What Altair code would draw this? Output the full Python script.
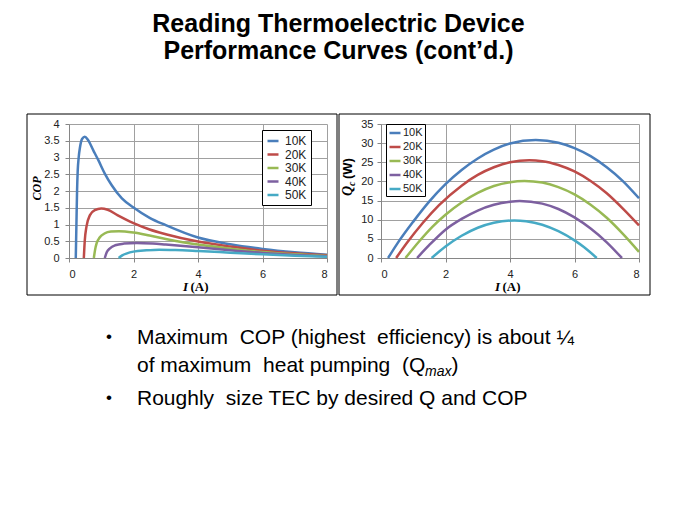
import altair as alt
import pandas as pd

series = ["10K", "20K", "30K", "40K", "50K"]
colors = ["#4A7EBB", "#BE4B48", "#98B954", "#7D60A0", "#46AAC5"]

NB = "\u00a0"
title_lines = ["Reading Thermoelectric Device", "Performance Curves (cont’d.)"]
bullet_lines = ["Maximum" + NB + " COP (highest" + NB + " efficiency) is about ¼",
                "of maximum" + NB + " heat pumping" + NB + " (Q",
                "Roughly" + NB + " size TEC by desired Q and COP"]
bullet_sub = ["max", ")"]
x_title_parts = ["I", "(A)"]
q_title_parts = ["Q", "c", "(W)"]

x_ticks = [0, 2, 4, 6, 8]
cop_ticks = [0, 0.5, 1, 1.5, 2, 2.5, 3, 3.5, 4]
q_ticks = [0, 5, 10, 15, 20, 25, 30, 35]

# COP vs current (left panel)
cop_i_10k = [0.21, 0.23, 0.25, 0.27, 0.30, 0.34, 0.41, 0.49, 0.59, 0.75, 0.91, 1.11, 1.32, 1.64, 2.0, 2.5, 3.0, 4.0, 5.0, 6.0, 7.0, 8.0]
cop_10k = [0, 1.0, 2.0, 2.6, 3.0, 3.3, 3.56, 3.62, 3.52, 3.22, 2.92, 2.52, 2.18, 1.78, 1.51, 1.2, 0.98, 0.61, 0.41, 0.27, 0.17, 0.1]
cop_i_20k = [0.46, 0.49, 0.54, 0.65, 0.8, 1.0, 1.2, 1.5, 2.0, 2.5, 3.0, 4.0, 5.0, 6.0, 7.0, 8.0]
cop_20k = [0, 0.53, 0.93, 1.28, 1.43, 1.48, 1.44, 1.28, 1.04, 0.85, 0.71, 0.49, 0.34, 0.22, 0.14, 0.08]
cop_i_30k = [0.77, 0.81, 0.86, 0.95, 1.1, 1.3, 1.55, 2.0, 2.5, 3.0, 4.0, 5.0, 6.0, 7.0, 8.0]
cop_30k = [0, 0.25, 0.45, 0.61, 0.73, 0.79, 0.8, 0.76, 0.67, 0.57, 0.4, 0.28, 0.18, 0.11, 0.06]
cop_i_40k = [1.11, 1.17, 1.27, 1.43, 1.7, 2.1, 2.6, 3.0, 4.0, 5.0, 6.0, 7.0, 8.0]
cop_40k = [0, 0.17, 0.29, 0.38, 0.43, 0.45, 0.43, 0.4, 0.32, 0.23, 0.15, 0.09, 0.05]
cop_i_50k = [1.54, 1.65, 1.8, 2.0, 2.4, 2.8, 3.3, 4.0, 5.0, 6.0, 7.0, 8.0]
cop_50k = [0, 0.08, 0.14, 0.19, 0.23, 0.25, 0.24, 0.21, 0.16, 0.11, 0.07, 0.04]

# heat pumped Qc vs current (right panel)
q_i_10k = [0.22, 0.5, 1, 1.5, 2, 2.5, 3, 3.5, 4, 4.8, 5.5, 6, 6.5, 7, 7.5, 8]
q_10k = [0, 3.7, 9.5, 14.8, 19.3, 23.0, 26.0, 28.3, 29.9, 30.8, 30.1, 28.7, 26.6, 23.7, 20.1, 15.6]
q_i_20k = [0.47, 0.8, 1.3, 1.8, 2.5, 3, 3.5, 4, 4.6, 5, 5.5, 6, 6.5, 7, 7.5, 8]
q_20k = [0, 3.9, 9.2, 13.8, 18.9, 21.7, 23.7, 25.0, 25.5, 25.3, 24.3, 22.6, 20.1, 16.9, 12.9, 8.5]
q_i_30k = [0.76, 1.2, 1.6, 2, 2.5, 3, 3.5, 4, 4.45, 5, 5.5, 6, 6.5, 7, 7.5, 8]
q_30k = [0, 4.5, 8.2, 11.3, 14.5, 17.0, 18.8, 19.8, 20.1, 19.7, 18.5, 16.6, 13.9, 10.5, 6.3, 1.6]
q_i_40k = [1.12, 1.5, 2, 2.5, 3, 3.5, 4, 4.3, 5, 5.5, 6, 6.5, 7, 7.47]
q_40k = [0, 3.4, 7.4, 10.2, 12.4, 13.9, 14.7, 14.9, 14.2, 12.8, 10.6, 7.7, 4.1, 0]
q_i_50k = [1.57, 2, 2.5, 3, 3.5, 4.13, 4.5, 5, 5.5, 6, 6.3, 6.69]
q_50k = [0, 3.0, 5.8, 7.9, 9.2, 9.8, 9.6, 8.7, 7.0, 4.6, 2.8, 0]


def table(cols):
    rows = []
    for name, xs, ys in cols:
        for x, y in zip(xs, ys):
            rows.append({"series": name, "I": x, "v": y})
    return pd.DataFrame(rows)


cop_data = table(zip(series, [cop_i_10k, cop_i_20k, cop_i_30k, cop_i_40k, cop_i_50k],
                     [cop_10k, cop_20k, cop_30k, cop_40k, cop_50k]))
q_data = table(zip(series, [q_i_10k, q_i_20k, q_i_30k, q_i_40k, q_i_50k],
                   [q_10k, q_20k, q_30k, q_40k, q_50k]))
one = pd.DataFrame({"k": [0]})

W, H = 258, 134
GRAY = "#868686"


def axis(values, fmt, pad, **kw):
    return alt.Axis(values=values, format=fmt, grid=True, gridColor="#a0a0a0", gridWidth=1,
                    domainColor=GRAY, tickColor=GRAY, tickSize=4,
                    labelFont="Liberation Sans", labelFontSize=11, labelColor="#222",
                    labelPadding=pad, **kw)


def legend(x, y, pad, font, lab_off, row_pad):
    return alt.Legend(title=None, orient="none", legendX=x, legendY=y,
                      strokeColor="black", fillColor="white", padding=pad,
                      symbolType="stroke", symbolStrokeWidth=2.5, symbolSize=121,
                      labelOffset=lab_off, rowPadding=row_pad,
                      labelFont="Liberation Sans", labelFontSize=font, labelColor="#222")


def frame(right):
    return alt.Chart(one).mark_rect(fillOpacity=0, stroke="black", strokeWidth=1).encode(
        x=alt.value(-42), x2=alt.value(W + right), y=alt.value(-10), y2=alt.value(H + 37))


def x_title():
    serif = dict(font="Liberation Serif", fontWeight="bold", fontSize=13, align="left",
                 baseline="alphabetic", color="black")
    a = alt.Chart(one).mark_text(text=x_title_parts[0], fontStyle="italic", **serif).encode(
        x=alt.value(114), y=alt.value(H + 33))
    b = alt.Chart(one).mark_text(text=x_title_parts[1], **serif).encode(
        x=alt.value(121.5), y=alt.value(H + 33))
    return a + b


color_scale = alt.Scale(domain=series, range=colors)

left_lines = alt.Chart(cop_data).mark_line(interpolate="monotone", strokeWidth=2.5).encode(
    x=alt.X("I:Q", scale=alt.Scale(domain=[0, 8], nice=False), axis=axis(x_ticks, "d", 6, title=None)),
    y=alt.Y("v:Q", scale=alt.Scale(domain=[0, 4], nice=False),
            axis=axis(cop_ticks, ".1~f", 6, title="COP", titleFont="Liberation Serif",
                      titleFontStyle="italic", titleFontWeight="bold", titleFontSize=12,
                      titleColor="black", titleX=-33, titleY=64, titleAlign="center",
                      titleBaseline="middle")),
    color=alt.Color("series:N", scale=color_scale, legend=legend(193, 6, 4, 12, 5, 0.5)),
)

q_title = (
    alt.Chart(one).mark_text(text=q_title_parts[0], angle=270, align="left", baseline="middle",
                             font="Liberation Serif", fontStyle="italic", fontWeight="bold",
                             fontSize=14, color="black").encode(x=alt.value(-33), y=alt.value(72))
    + alt.Chart(one).mark_text(text=q_title_parts[1], angle=270, align="left", baseline="middle",
                               font="Liberation Serif", fontStyle="italic", fontWeight="bold",
                               fontSize=10, color="black").encode(x=alt.value(-29), y=alt.value(62))
    + alt.Chart(one).mark_text(text=q_title_parts[2], angle=270, align="left", baseline="middle",
                               font="Liberation Sans", fontWeight="bold",
                               fontSize=13, color="black").encode(x=alt.value(-33), y=alt.value(55))
)

right_lines = alt.Chart(q_data).mark_line(interpolate="monotone", strokeWidth=2.5).encode(
    x=alt.X("I:Q", scale=alt.Scale(domain=[0, 8], nice=False), axis=axis(x_ticks, "d", 6, title=None)),
    y=alt.Y("v:Q", scale=alt.Scale(domain=[0, 35], nice=False), axis=axis(q_ticks, "d", 4, title=None)),
    color=alt.Color("series:N", scale=color_scale, legend=legend(5, 0, 2, 11, 1, 2)),
)

left = alt.layer(frame(10), left_lines, x_title()).properties(width=W, height=H)
right = alt.layer(frame(11), right_lines, x_title(), q_title).properties(width=W, height=H)
plots = alt.hconcat(left, right, spacing=0).resolve_scale(color="independent")

# bullet block: its origin lines up with the left plot's origin
big = dict(font="Liberation Sans", fontSize=21, color="black", align="left", baseline="alphabetic")
dot = dict(font="Liberation Sans", fontSize=17, color="black", align="left", baseline="alphabetic")
bullets = alt.layer(
    alt.Chart(one).mark_text(text="•", **dot).encode(x=alt.value(37), y=alt.value(46)),
    alt.Chart(one).mark_text(text=bullet_lines[0], **big).encode(x=alt.value(68), y=alt.value(47.5)),
    alt.Chart(one).mark_text(text=bullet_lines[1], **big).encode(x=alt.value(68), y=alt.value(76)),
    alt.Chart(one).mark_text(text=bullet_sub[0], font="Liberation Sans", fontStyle="italic", fontSize=14,
                             color="black", align="left", baseline="alphabetic").encode(
        x=alt.value(356), y=alt.value(80)),
    alt.Chart(one).mark_text(text=bullet_sub[1], **big).encode(x=alt.value(382.5), y=alt.value(76)),
    alt.Chart(one).mark_text(text="•", **dot).encode(x=alt.value(37), y=alt.value(107)),
    alt.Chart(one).mark_text(text=bullet_lines[2], **big).encode(x=alt.value(68), y=alt.value(108.5)),
).properties(width=560, height=115)

chart = alt.vconcat(plots, bullets, spacing=0).properties(
    title=alt.TitleParams(text=title_lines, font="Liberation Sans", fontSize=25, fontWeight="bold",
                          color="black", lineHeight=27, anchor="middle", offset=50),
    padding={"left": 18, "top": 3, "right": 5, "bottom": 5},
    background="white",
).configure_view(strokeWidth=0)

chart.save("out.html", embed_options={"renderer": "svg", "actions": False})
